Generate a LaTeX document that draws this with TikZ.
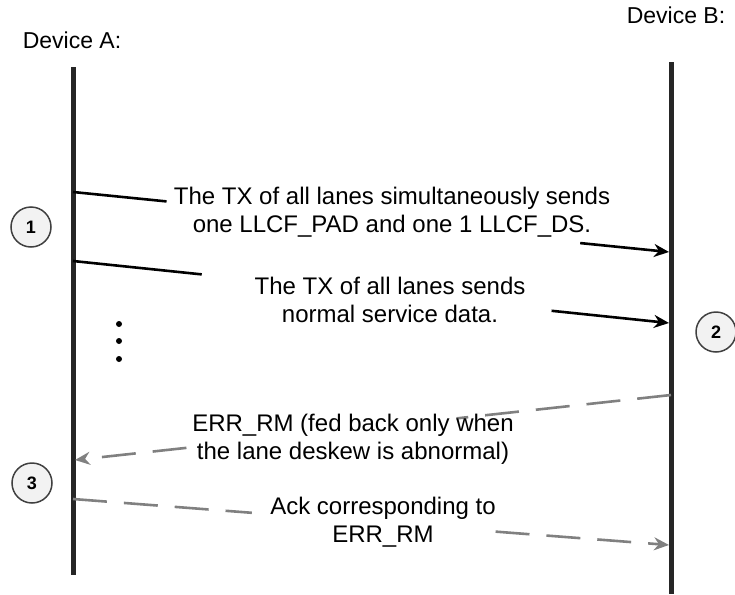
\documentclass[tikz,border=0pt]{standalone}
\usepackage{fontspec}
\setmainfont{Liberation Sans}
\usetikzlibrary{arrows.meta,calc}
\begin{document}
\begin{tikzpicture}[x=1pt,y=-1pt,
  lifeline/.style={line width=5pt, draw=black!85},
  msg/.style={line width=2.6pt, draw=black},
  reply/.style={line width=2.6pt, draw=black!50, dash pattern=on 34pt off 17pt},
  arr/.style={-{Stealth[length=15pt,width=13pt]}},
  textlabel/.style={font=\fontsize{24}{28}\selectfont, align=center, inner sep=0pt},
  devlabel/.style={font=\fontsize{23}{27}\selectfont, inner sep=0pt},
  stepmark/.style={circle, draw=black!75, line width=1.5pt, fill=black!5, minimum size=40pt, inner sep=0pt, font=\fontsize{18}{18}\selectfont\bfseries},
  dotmark/.style={circle, fill=black, minimum size=6pt, inner sep=0pt}
]
\useasboundingbox (0,0) rectangle (735,594);

% device labels
\node[devlabel] (devA) at (72,40) {Device A:};
\node[devlabel] (devB) at (676,15) {Device B:};

% lifelines
\coordinate (Atop) at (73,67);
\coordinate (Abot) at (73,575);
\coordinate (Btop) at (671,62);
\coordinate (Bbot) at (671,594);
\draw[lifeline] (Atop) -- (Abot);
\draw[lifeline] (Btop) -- (Bbot);

% message end points
\coordinate (a1) at (73,192);  \coordinate (b1) at (669,252);
\coordinate (a2) at (73,261);  \coordinate (b2) at (669,323);
\coordinate (b3) at (671,395); \coordinate (a3) at (75,460);
\coordinate (a4) at (73,499);  \coordinate (b4) at (669,545);

% messages
\draw[msg] (a1) -- ($(a1)!0.157!(b1)$);
\draw[msg,arr] ($(a1)!0.851!(b1)$) -- (b1);
\draw[msg] (a2) -- ($(a2)!0.216!(b2)$);
\draw[msg,arr] ($(a2)!0.803!(b2)$) -- (b2);
\draw[reply] (b3) -- ($(b3)!0.36!(a3)$);
\draw[reply,arr] ($(b3)!0.813!(a3)$) -- (a3);
\draw[reply] (a4) -- ($(a4)!0.30!(b4)$);
\draw[reply,arr] ($(a4)!0.709!(b4)$) -- (b4);

% message texts
\node[textlabel] (t1) at (392,212) {The TX of all lanes simultaneously sends\\one LLCF\_PAD and one 1 LLCF\_DS.};
\node[textlabel] (t2) at (390,300) {The TX of all lanes sends\\normal service data.};
\node[textlabel] (t3) at (353,439) {ERR\_RM (fed back only when\\the lane deskew is abnormal)};
\node[textlabel] (t4) at (383,522) {Ack corresponding to\\ERR\_RM};

% dots
\node[dotmark] (d1) at (119,324) {};
\node[dotmark] (d2) at (119,341) {};
\node[dotmark] (d3) at (119,359) {};

% step markers
\node[stepmark] (s1) at (31,227) {1};
\node[stepmark] (s2) at (716,332) {2};
\node[stepmark] (s3) at (32,483) {3};
\end{tikzpicture}
\end{document}
